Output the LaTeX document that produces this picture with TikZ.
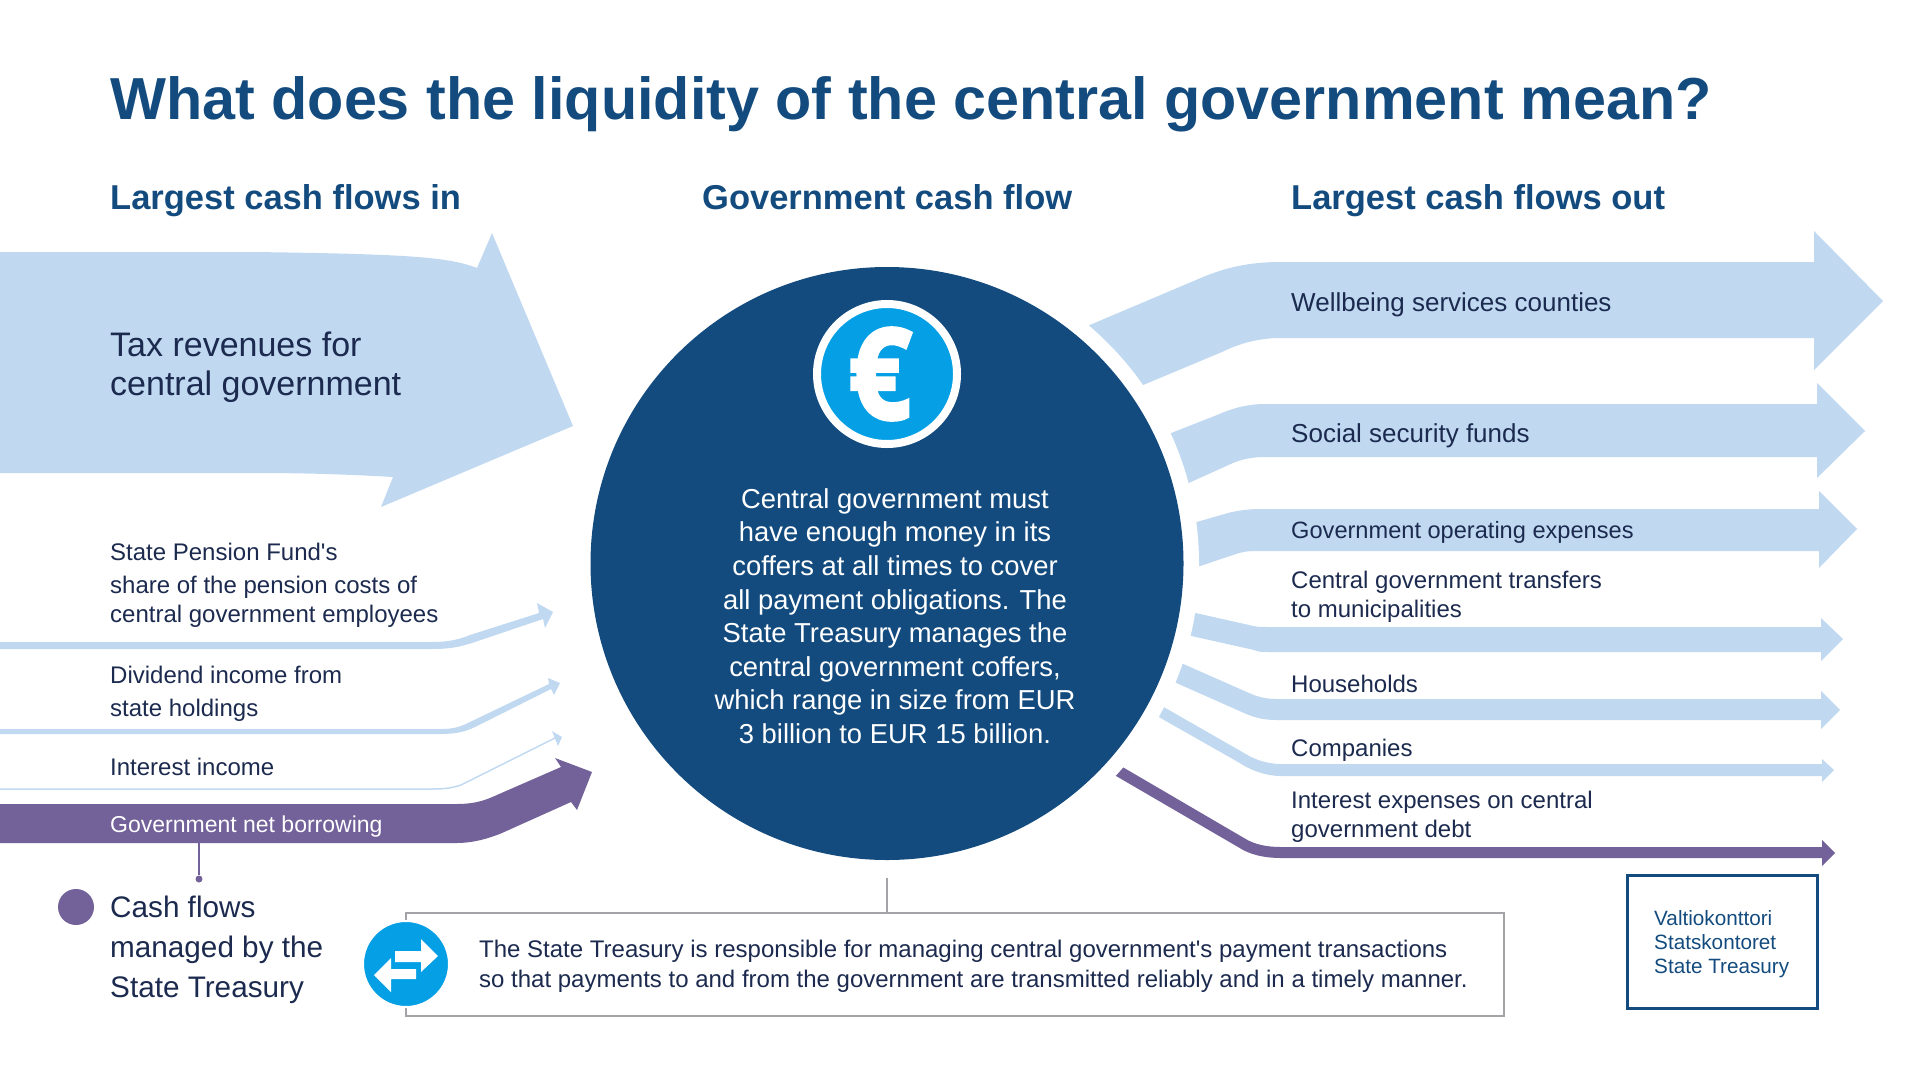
\documentclass[tikz,border=0pt]{standalone}
\usepackage{fontspec}
\setmainfont{Liberation Sans}
\newfontfamily\coinfont[BoldFeatures={FakeBold=3}]{Open Sans}
\usetikzlibrary{positioning}
\definecolor{navy}{HTML}{134B7E}
\definecolor{paleblue}{HTML}{C0D9F1}
\definecolor{brightblue}{HTML}{049FE5}
\definecolor{plum}{HTML}{736199}
\definecolor{ink}{HTML}{1B2A4E}
\definecolor{framegray}{HTML}{A3A3A8}
\tikzstyle{inflow} = [fill = paleblue]
\tikzstyle{managed} = [fill = plum]
\tikzstyle{label} = [anchor = base west, inner sep = 0pt, text = ink, align = left, font = \fontsize{24}{29}\selectfont]
\tikzstyle{head} = [anchor = base west, inner sep = 0pt, text = navy, font = \fontsize{34.5}{40}\selectfont\bfseries]
\begin{document}
\begin{tikzpicture}[x = 1pt, y = -1pt]
                \useasboundingbox (0,0) rectangle (1921,1081);

                \node (title) [head, font = \fontsize{59.3}{70}\selectfont\bfseries] at (110,119) {What does the liquidity of the central government mean?};
                \node (headin) [head] at (110,209) {Largest cash flows in};
                \node (headmid) [head] at (702,209) {Government cash flow};
                \node (headout) [head] at (1291,209) {Largest cash flows out};

                % flows in
                \fill [inflow] (0,252) -- (253,252) .. controls (408,254) and (449,257) .. (477,268) -- (492,233) -- (573,426) -- (381,507) -- (393,477) .. controls (340,474) and (300,473) .. (253,473) -- (0,473) -- cycle;
                \fill [inflow] (0,642) -- (432,642) .. controls (450,642) and (460,639) .. (470,635) -- (539,613) -- (537,603) -- (553,612) -- (545,628) -- (543,619) -- (475,642) .. controls (460,647) and (450,649) .. (432,649) -- (0,649) -- cycle;
                \fill [inflow] (0,729) -- (441,729) .. controls (455,729) and (462,726) .. (470,722) -- (549,684) -- (548,678) -- (560,683) -- (554,695) -- (551,689) -- (475,727) .. controls (465,732) and (455,734) .. (441,734) -- (0,734) -- cycle;
                \draw [paleblue, line width = 1.5pt] (0,789) -- (432,789) .. controls (445,789) and (452,788) .. (461,785) -- (555,738);
                \fill [inflow] (552,731) -- (562,737) -- (558,746) -- cycle;
                \fill [managed] (0,804) -- (457,804) .. controls (470,804) and (480,802) .. (490,798) -- (561,767) -- (555,758) -- (592,772) -- (577,810) -- (571,802) -- (502,833) .. controls (485,840) and (470,843) .. (457,843) -- (0,843) -- cycle;

                % flows out
                \fill [inflow] (1000,363) -- (1196,280) .. controls (1225,267) and (1250,262) .. (1281,262) -- (1814,262) -- (1814,231) -- (1883,301) -- (1814,370) -- (1814,338) -- (1281,338) .. controls (1260,338) and (1240,343) .. (1222,352) -- (1050,424) -- cycle;
                \fill [inflow] (1100,461) -- (1217,415) .. controls (1235,407) and (1250,404) .. (1265,404) -- (1817,404) -- (1817,383) -- (1865,431) -- (1817,478) -- (1817,457) -- (1268,457) .. controls (1255,457) and (1245,458) .. (1233,463) -- (1120,514) -- cycle;
                \fill [inflow] (1120,544) -- (1228,513) .. controls (1240,510) and (1250,509) .. (1262,509) -- (1819,509) -- (1819,491) -- (1857,529) -- (1819,568) -- (1819,551) -- (1260,551) .. controls (1250,551) and (1245,551) .. (1236,554) -- (1120,593) -- cycle;
                \fill [inflow] (1120,596) -- (1249,625) .. controls (1255,627) and (1262,627) .. (1268,627) -- (1821,627) -- (1821,618) -- (1843,639) -- (1821,661) -- (1821,652) -- (1268,652) .. controls (1262,652) and (1258,652) .. (1254,650) -- (1120,620) -- cycle;
                \fill [inflow] (1120,636) -- (1249,693) .. controls (1258,697) and (1267,699) .. (1276,699) -- (1821,699) -- (1821,691) -- (1840,710) -- (1821,729) -- (1821,720) -- (1276,720) .. controls (1265,720) and (1255,718) .. (1244,713) -- (1120,658) -- cycle;
                \fill [inflow] (1120,682) -- (1244,753) .. controls (1255,760) and (1268,764) .. (1281,764) -- (1822,764) -- (1822,759) -- (1834,770) -- (1822,782) -- (1822,776) -- (1281,776) .. controls (1265,776) and (1250,770) .. (1238,762) -- (1120,695) -- cycle;
                \fill [managed] (1090,748) -- (1244,838) .. controls (1255,845) and (1268,847) .. (1281,847) -- (1822,847) -- (1822,840) -- (1835,853) -- (1822,866) -- (1822,858) -- (1281,858) .. controls (1265,858) and (1250,855) .. (1238,847) -- (1080,755) -- cycle;

                \node (gap) [circle, fill = white, minimum size = 624pt, inner sep = 0pt] at (887,563.5) {};
                \node (core) [circle, fill = navy, minimum size = 593pt, inner sep = 0pt] at (887,563.5) {};
                \node (coin) [circle, fill = brightblue, draw = white, line width = 8pt, minimum size = 140pt, inner sep = 0pt] at (887,374) {};
                \node (coinmark) [text = white, inner sep = 0pt, font = \fontsize{126}{126}\selectfont\coinfont\bfseries] at (880,374) {\scalebox{.88}[1]{€}};
                \node (coretext) [text = white, text centered, align = center, inner sep = 0pt, font = \fontsize{27.4}{33.6}\selectfont] at (895,616) {Central government must\\have enough money in its\\coffers at all times to cover\\all payment obligations. The\\State Treasury manages the\\central government coffers,\\which range in size from EUR\\3 billion to EUR 15 billion.};

                \node (taxtext) [label, font = \fontsize{34}{39}\selectfont] at (110,395) {Tax revenues for\\central government};
                \node (penstext) [label] at (110,622) {State Pension Fund\textquotesingle s\\[4pt]share of the pension costs of\\central government employees};
                \node (divtext) [label, font = \fontsize{24}{33}\selectfont] at (110,716) {Dividend income from\\state holdings};
                \node (inttext) [label] at (110,775) {Interest income};
                \node (nettext) [label, text = white, font = \fontsize{23}{29}\selectfont] at (110,832) {Government net borrowing};

                \coordinate (netbase) at (199,843);
                \node (netdot) [circle, fill = plum, minimum size = 7pt, inner sep = 0pt] at (199,879) {};
                \draw [plum, line width = 1.5pt] (netbase) -- (netdot);
                \node (legenddot) [circle, fill = plum, minimum size = 36pt, inner sep = 0pt] at (76,907) {};
                \node (legendtext) [label, font = \fontsize{29.7}{40}\selectfont] at (110,997) {Cash flows\\managed by the\\State Treasury};

                \node (welltext) [label, font = \fontsize{26}{29}\selectfont] at (1291,311) {Wellbeing services counties};
                \node (soctext) [label, font = \fontsize{26}{29}\selectfont] at (1291,442) {Social security funds};
                \node (opstext) [label, font = \fontsize{23.6}{29}\selectfont] at (1291,538) {Government operating expenses};
                \node (transtext) [label] at (1291,617) {Central government transfers\\to municipalities};
                \node (houstext) [label] at (1291,692) {Households};
                \node (comptext) [label] at (1291,756) {Companies};
                \node (debttext) [label] at (1291,837) {Interest expenses on central\\government debt};

                \node (note) [draw = framegray, line width = 2.5pt, fill = white, minimum width = 1098pt, minimum height = 103pt, inner sep = 0pt] at (955,964.5) {};
                \coordinate (stemtop) at (887,878);
                \draw [framegray, line width = 1.5pt] (stemtop) -- (note.north -| stemtop);
                \node (swap) [circle, fill = brightblue, draw = white, line width = 2pt, minimum size = 86pt, inner sep = 0pt] at (406,964) {};
                \fill [white] (395,951) -- (421,951) -- (421,939) -- (438,956) -- (421,972) -- (421,962) -- (395,962) -- cycle;
                \fill [white] (416,969) -- (391,969) -- (391,958) -- (374,975) -- (391,992) -- (391,979) -- (416,979) -- cycle;
                \node (notetext) [label, font = \fontsize{24}{30}\selectfont] at (479,987) {The State Treasury is responsible for managing central government\textquotesingle s payment transactions\\so that payments to and from the government are transmitted reliably and in a timely manner.};

                \node (logo) [draw = navy, line width = 3pt, minimum width = 190pt, minimum height = 133pt, inner sep = 0pt] at (1722,941.5) {};
                \node (logotext) [label, text = navy, font = \fontsize{20.7}{24}\selectfont] at (1654,973) {Valtiokonttori\\Statskontoret\\State Treasury};
\end{tikzpicture}
\end{document}
